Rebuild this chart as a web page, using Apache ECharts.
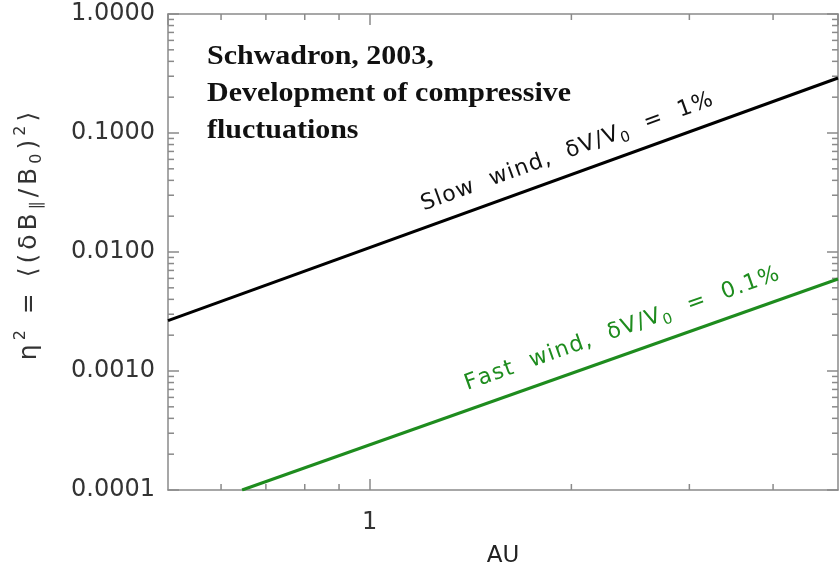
<!DOCTYPE html>
<html>
<head>
<meta charset="utf-8">
<script src="https://cdn.jsdelivr.net/npm/echarts@6/dist/echarts.min.js"></script>
<style>
  html, body { margin: 0; padding: 0; background: #ffffff; }
  #chart { width: 840px; height: 569px; }
</style>
</head>
<body>
<div id="chart"></div>
<script>
// Axis ranges: heliocentric distance (AU) and eta^2
const auRange = [0.5, 5];
const etaRange = [0.0001, 1];

// Slow wind, dV/V0 = 1%
const slowAU = [0.5, 5];
const slowEta2 = [0.00265, 0.29];

// Fast wind, dV/V0 = 0.1%
const fastAU = [0.645, 5];
const fastEta2 = [0.0001, 0.00593];

// Minor tick positions on the log axes
const auMinorTicks = [0.6, 0.7, 0.8, 0.9, 2, 3, 4];
const etaMinorTicks = [
  0.0002, 0.0003, 0.0004, 0.0005, 0.0006, 0.0007, 0.0008, 0.0009,
  0.002, 0.003, 0.004, 0.005, 0.006, 0.007, 0.008, 0.009,
  0.02, 0.03, 0.04, 0.05, 0.06, 0.07, 0.08, 0.09,
  0.2, 0.3, 0.4, 0.5, 0.6, 0.7, 0.8, 0.9
];

// Where the in-plot curve captions sit (AU, eta^2)
const slowCaptionAt = [1.97, 0.069];
const fastCaptionAt = [2.38, 0.00225];

const AXIS_GREY = '#8a8a8a';
const LABEL_FONT = '"DejaVu Sans", sans-serif';

const chart = echarts.init(document.getElementById('chart'), null, { renderer: 'canvas' });

const zip = (xs, ys) => xs.map((x, i) => [x, ys[i]]);

// tick records: [x, y, side]  side: 0 bottom, 1 top, 2 left, 3 right
const minorTickData = [];
auMinorTicks.forEach(v => {
  minorTickData.push([v, etaRange[0], 0]);
  minorTickData.push([v, etaRange[1], 1]);
});
etaMinorTicks.forEach(v => {
  minorTickData.push([auRange[0], v, 2]);
  minorTickData.push([auRange[1], v, 3]);
});

// Build spaced-out rich text: each piece is [text, styleName]
function spaced(pieces) {
  return pieces.map(([txt, st]) =>
    txt.split('').map(ch => '{' + st + '|' + ch + '}').join('')
  ).join('');
}

const axisCommon = {
  type: 'log',
  logBase: 10,
  axisLine: { show: true, lineStyle: { color: AXIS_GREY, width: 1.5 } },
  axisTick: { show: true, inside: true, length: 11, lineStyle: { color: AXIS_GREY, width: 1.5 } },
  splitLine: { show: false },
  minorTick: { show: false },
  minorSplitLine: { show: false }
};

const option = {
  backgroundColor: '#ffffff',
  animation: false,
  grid: { left: 168, right: 2, top: 14, bottom: 79, containLabel: false, outerBoundsMode: 'none' },
  xAxis: [
    Object.assign({}, axisCommon, {
      position: 'bottom',
      min: auRange[0], max: auRange[1],
      axisLabel: {
        show: true, margin: 21, color: '#333333',
        fontFamily: LABEL_FONT, fontSize: 24,
        showMinLabel: false, showMaxLabel: false,
        formatter: v => String(Math.round(v * 1000) / 1000)
      },
      name: 'AU',
      nameLocation: 'middle',
      nameGap: 55,
      nameTextStyle: { color: '#222222', fontFamily: LABEL_FONT, fontSize: 23 }
    }),
    Object.assign({}, axisCommon, {
      position: 'top',
      min: auRange[0], max: auRange[1],
      axisLabel: { show: false }
    })
  ],
  yAxis: [
    Object.assign({}, axisCommon, {
      position: 'left',
      min: etaRange[0], max: etaRange[1],
      axisLabel: {
        show: true, margin: 13, color: '#333333',
        fontFamily: LABEL_FONT, fontSize: 24,
        formatter: v => Number(v).toFixed(4)
      }
    }),
    Object.assign({}, axisCommon, {
      position: 'right',
      min: etaRange[0], max: etaRange[1],
      axisLabel: { show: false }
    })
  ],
  series: [
    {
      name: 'Slow wind',
      type: 'line',
      data: zip(slowAU, slowEta2),
      symbol: 'none',
      lineStyle: { color: '#000000', width: 3 },
      z: 5
    },
    {
      name: 'Fast wind',
      type: 'line',
      data: zip(fastAU, fastEta2),
      symbol: 'none',
      lineStyle: { color: '#1e8c1e', width: 3 },
      z: 5
    },
    {
      name: 'minor ticks',
      type: 'custom',
      silent: true,
      data: minorTickData,
      renderItem: (params, api) => {
        const p = api.coord([api.value(0), api.value(1)]);
        const side = api.value(2);
        const len = 6;
        let x2 = p[0], y2 = p[1];
        if (side === 0) y2 = p[1] - len;
        else if (side === 1) y2 = p[1] + len;
        else if (side === 2) x2 = p[0] + len;
        else x2 = p[0] - len;
        return {
          type: 'line',
          shape: { x1: p[0], y1: p[1], x2: x2, y2: y2 },
          style: { stroke: AXIS_GREY, lineWidth: 1.5 }
        };
      },
      z: 3
    }
  ]
};

chart.setOption(option);

function captionRich(color, size, gap) {
  return {
    t: { fontFamily: LABEL_FONT, fontSize: size, lineHeight: size + 6, fill: color, padding: [0, gap] },
    s: { fontFamily: LABEL_FONT, fontSize: Math.round(size * 0.66), lineHeight: Math.round(size * 0.66),
         verticalAlign: 'bottom', fill: color, padding: [0, gap] }
  };
}

// Captions: title block, y-axis name, and the two curve annotations
function drawCaptions() {
  const slowPt = chart.convertToPixel({ xAxisIndex: 0, yAxisIndex: 0 }, slowCaptionAt);
  const fastPt = chart.convertToPixel({ xAxisIndex: 0, yAxisIndex: 0 }, fastCaptionAt);
  const tilt = 20 * Math.PI / 180;
  const tiltFast = 19.5 * Math.PI / 180;

  chart.setOption({
    graphic: [
      {
        type: 'text',
        x: 207, y: 39,
        scaleX: 1.11,
        style: {
          text: 'Schwadron, 2003,\nDevelopment of compressive\nfluctuations',
          font: 'bold 27px "Liberation Serif", "Times New Roman", serif',
          lineHeight: 37,
          verticalAlign: 'top',
          fill: '#111111'
        },
        z: 10
      },
      {
        type: 'text',
        x: 29, y: 236,
        rotation: Math.PI / 2,
        style: {
          text: spaced([['η', 'a'], ['2', 'sup'], [' = ⟨(δB', 'a'], ['∥', 'sub'], ['/B', 'a'], ['0', 'sub'], [')', 'a'], ['2', 'sup'], ['⟩', 'a']]),
          align: 'center',
          verticalAlign: 'middle',
          fill: '#333333',
          rich: {
            a: { fontFamily: LABEL_FONT, fontSize: 25, lineHeight: 32, fill: '#333333', padding: [0, 2] },
            sup: { fontFamily: LABEL_FONT, fontSize: 16, lineHeight: 16, verticalAlign: 'top', fill: '#333333', padding: [0, 2] },
            sub: { fontFamily: LABEL_FONT, fontSize: 16, lineHeight: 16, verticalAlign: 'bottom', fill: '#333333', padding: [0, 2] }
          }
        },
        z: 10
      },
      {
        type: 'text',
        x: slowPt[0], y: slowPt[1],
        rotation: tilt,
        style: {
          text: spaced([['Slow  wind,  δV/V', 't'], ['0', 's'], ['  =  1%', 't']]),
          align: 'center',
          verticalAlign: 'middle',
          rich: captionRich('#111111', 22, 0.6)
        },
        z: 10
      },
      {
        type: 'text',
        x: fastPt[0], y: fastPt[1],
        rotation: tiltFast,
        style: {
          text: spaced([['Fast  wind,  δV/V', 't'], ['0', 's'], ['  =  0.1%', 't']]),
          align: 'center',
          verticalAlign: 'middle',
          rich: captionRich('#1e8c1e', 22, 0.7)
        },
        z: 10
      }
    ]
  });
}
drawCaptions();
</script>
</body>
</html>
